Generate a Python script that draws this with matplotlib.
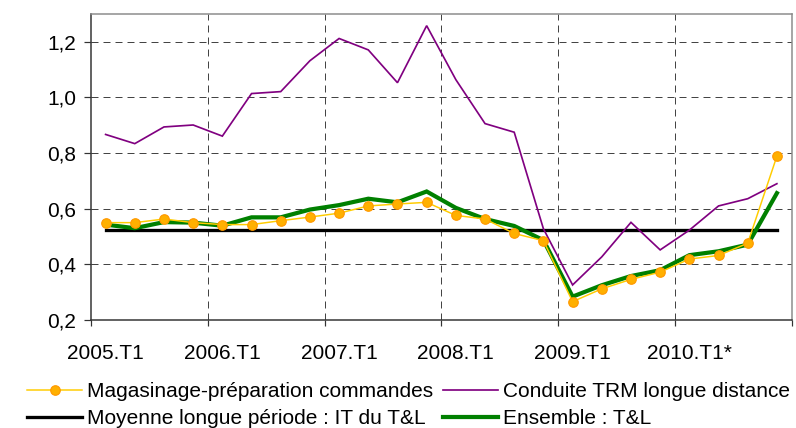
import matplotlib
matplotlib.use("Agg")
import matplotlib.pyplot as plt
from matplotlib.lines import Line2D

# ---- data ----
quarters = ["2005.T1", "2005.T2", "2005.T3", "2005.T4",
            "2006.T1", "2006.T2", "2006.T3", "2006.T4",
            "2007.T1", "2007.T2", "2007.T3", "2007.T4",
            "2008.T1", "2008.T2", "2008.T3", "2008.T4",
            "2009.T1", "2009.T2", "2009.T3", "2009.T4",
            "2010.T1*", "2010.T2*", "2010.T3*", "2010.T4*"]
tick_labels = ["2005.T1", "2006.T1", "2007.T1", "2008.T1", "2009.T1", "2010.T1*"]

magasinage = [0.550, 0.550, 0.563, 0.550, 0.543, 0.543, 0.557, 0.570,
              0.584, 0.610, 0.617, 0.623, 0.576, 0.563, 0.511, 0.485,
              0.266, 0.312, 0.346, 0.372, 0.419, 0.432, 0.476, 0.789]
conduite = [0.867, 0.834, 0.894, 0.901, 0.861, 1.014, 1.021, 1.132,
            1.212, 1.171, 1.053, 1.258, 1.064, 0.906, 0.875, 0.528,
            0.326, 0.427, 0.551, 0.452, 0.523, 0.610, 0.636, 0.690]
moyenne = [0.524, 0.524, 0.524, 0.524, 0.524, 0.524, 0.524, 0.524,
           0.524, 0.524, 0.524, 0.524, 0.524, 0.524, 0.524, 0.524,
           0.524, 0.524, 0.524, 0.524, 0.524, 0.524, 0.524, 0.524]
ensemble = [0.543, 0.530, 0.552, 0.550, 0.539, 0.569, 0.569, 0.597,
            0.613, 0.636, 0.623, 0.662, 0.603, 0.563, 0.538, 0.487,
            0.284, 0.325, 0.358, 0.379, 0.433, 0.447, 0.471, 0.656]

yticks = [0.2, 0.4, 0.6, 0.8, 1.0, 1.2]

names = ["Magasinage-préparation commandes", "Conduite TRM longue distance",
         "Moyenne longue période : IT du T&L", "Ensemble : T&L"]

# ---- style ----
plt.rcParams["font.family"] = ["Liberation Sans", "DejaVu Sans"]
plt.rcParams["font.size"] = 15
PX = 0.72  # points per pixel at dpi 100

c_yel = "#FFCC00"
c_mk = "#FFB000"
c_mke = "#FF9900"
c_pur = "#800080"
c_blk = "#000000"
c_grn = "#008000"

fig = plt.figure(figsize=(7.96, 4.28), dpi=100)
ax = fig.add_axes([91 / 796, 1 - 320 / 428, (791.5 - 91) / 796, (320 - 14) / 428])

x = list(range(len(quarters)))

ax.plot(x, conduite, color=c_pur, lw=1.7 * PX, zorder=3, solid_joinstyle="miter")
ax.plot(x, moyenne, color=c_blk, lw=3.3 * PX, zorder=2)
ax.plot(x, ensemble, color=c_grn, lw=4.2 * PX, zorder=4, solid_joinstyle="miter")
ax.plot(x, magasinage, color=c_yel, lw=1.5 * PX, zorder=5,
        marker="o", markersize=9.5 * PX, markerfacecolor=c_mk,
        markeredgecolor=c_mke, markeredgewidth=1.2 * PX)

ax.set_xlim(-0.5, len(quarters) - 0.5)
ax.set_ylim(0.2, 1.3)

# y axis
ax.set_yticks(yticks)
ax.set_yticklabels([f"{v:.1f}".replace(".", ",") for v in yticks])
ax.tick_params(axis="y", direction="out", length=7 * PX, width=1.2 * PX,
               pad=8 * PX, colors="#333333", labelcolor="black")

# x axis: ticks at group boundaries, labels at group first category
bounds = [i - 0.5 for i in range(0, len(quarters) + 1, 4)]
ax.set_xticks(bounds)
ax.set_xticklabels([""] * len(bounds))
ax.set_xticks([quarters.index(t) for t in tick_labels], minor=True)
ax.set_xticklabels(tick_labels, minor=True)
ax.tick_params(axis="x", which="major", direction="out", length=6 * PX,
               width=1.2 * PX, colors="#333333")
ax.tick_params(axis="x", which="minor", length=0, pad=24 * PX, labelcolor="black")

# grid
dash = (0, (7, 5))
for v in yticks[1:]:
    ax.axhline(v, color="#444444", lw=1.0 * PX, ls=dash, zorder=1)
for b in bounds[1:-1]:
    ax.axvline(b, color="#444444", lw=1.0 * PX, ls=dash, zorder=1)

for s in ("left", "bottom"):
    ax.spines[s].set_color("#333333")
    ax.spines[s].set_linewidth(1.5 * PX)
for s in ("top", "right"):
    ax.spines[s].set_color("#8a8a8a")
    ax.spines[s].set_linewidth(1.5 * PX)

# legend
handles = [
    Line2D([], [], color=c_yel, lw=1.5 * PX, marker="o", markersize=9.5 * PX,
           markerfacecolor=c_mk, markeredgecolor=c_mke, markeredgewidth=1.2 * PX),
    Line2D([], [], color=c_blk, lw=3.3 * PX),
    Line2D([], [], color=c_pur, lw=1.7 * PX),
    Line2D([], [], color=c_grn, lw=4.2 * PX),
]
labels = [names[0], names[2], names[1], names[3]]
fig.legend(handles, labels, ncol=2, loc="upper left",
           bbox_to_anchor=(27 / 796, 1 - 382 / 428), frameon=False,
           borderpad=0, borderaxespad=0, handlelength=2.65, handletextpad=0.25,
           columnspacing=0.45, labelspacing=0.38, markerscale=1.0)

fig.savefig("out.png", dpi=100)
